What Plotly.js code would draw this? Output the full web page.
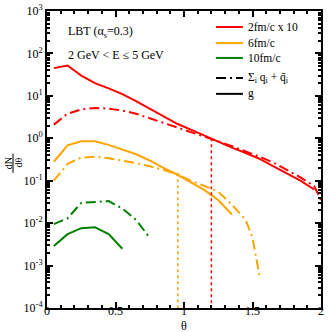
<!DOCTYPE html>
<html>
<head>
<meta charset="utf-8">
<script src="https://cdn.plot.ly/plotly-3.0.1.min.js"></script>
<style>
  body { margin: 0; background: #fff; }
  #plot { width: 332px; height: 332px; }
</style>
</head>
<body>
<div id="plot"></div>
<script>
// theta bins
let theta = [0.05, 0.15, 0.25, 0.35, 0.45, 0.55, 0.65, 0.75, 0.85, 0.95,
             1.05, 1.15, 1.25, 1.35, 1.45, 1.55, 1.65, 1.75, 1.85, 1.95];
let thetaQ = [0.05, 0.15, 0.25, 0.35, 0.45, 0.55, 0.65, 0.75, 0.85, 0.95,
              1.05, 1.15, 1.25, 1.35, 1.45, 1.55, 1.65, 1.75, 1.85, 1.95, 2.0];

// 2 fm/c (x 10)
let red_g = [45, 52, 30, 20, 15, 11, 7.5, 5, 3.3, 2.2,
             1.6, 1.15, 0.85, 0.6, 0.45, 0.33, 0.22, 0.15, 0.1, 0.062];
let red_q = [2.1, 3.8, 4.8, 5.2, 5, 4.5, 3.8, 3, 2.3, 1.8,
             1.4, 1.1, 0.85, 0.65, 0.5, 0.37, 0.27, 0.18, 0.12, 0.075, 0.035];

// 6 fm/c
let theta6g = [0.05, 0.15, 0.25, 0.35, 0.45, 0.55, 0.65, 0.75, 0.85, 0.95, 1.05, 1.15, 1.25, 1.35];
let orange_g = [0.28, 0.68, 0.85, 0.85, 0.7, 0.55, 0.42, 0.3, 0.2, 0.14, 0.09, 0.06, 0.035, 0.016];
let theta6q = [0.05, 0.15, 0.25, 0.35, 0.45, 0.55, 0.65, 0.75, 0.85, 0.95, 1.05, 1.15, 1.25, 1.35, 1.45, 1.5, 1.55];
let orange_q = [0.1, 0.25, 0.35, 0.37, 0.34, 0.3, 0.26, 0.22, 0.18, 0.14, 0.1, 0.075, 0.055, 0.027, 0.012, 0.0045, 0.0006];

// 10 fm/c
let theta10g = [0.05, 0.15, 0.25, 0.35, 0.45, 0.55];
let green_g = [0.0029, 0.0055, 0.0076, 0.008, 0.0055, 0.0025];
let theta10q = [0.05, 0.15, 0.25, 0.35, 0.45, 0.55, 0.65, 0.75];
let green_q = [0.0095, 0.013, 0.03, 0.031, 0.033, 0.022, 0.012, 0.0045];

// vertical dotted markers
let redCut = [1.2, 1.2];
let redCutY = [1, 1e-4];
let orangeCut = [0.955, 0.955];
let orangeCutY = [0.15, 1e-4];

// y tick labels
let yTickVals = [1e-4, 1e-3, 1e-2, 1e-1, 1, 10, 100, 1000];
let yTickText = ["10<sup>-4</sup>", "10<sup>-3</sup>", "10<sup>-2</sup>", "10<sup>-1</sup>",
                 "10<sup>0</sup>", "10<sup>1</sup>", "10<sup>2</sup>", "10<sup>3</sup>"];

// legend
let legendNames = ["2fm/c x 10", "6fm/c", "10fm/c",
                   "\u03a3<sub>i</sub> q<sub>i</sub> + q\u0304<sub>i</sub>", "g"];

let RED = "#ff0000", ORANGE = "#ffa500", GREEN = "#008000";
let dd = "10px,4px,2px,4px";
let legendColors = [RED, ORANGE, GREEN, "black", "black"];
let legendDash = ["solid", "solid", "solid", dd, "solid"];
let legendRowY = [0.946, 0.892, 0.842, 0.774, 0.721];

function line(x, y, color, dash, width) {
    return {
        x: x, y: y, type: "scatter", mode: "lines",
        line: {color: color, width: width || 2, dash: dash || "solid"},
        showlegend: false, hoverinfo: "skip"
    };
}

let pdata = [
    line(theta, red_g, RED),
    line(thetaQ, red_q, RED, dd),
    line(theta6g, orange_g, ORANGE),
    line(theta6q, orange_q, ORANGE, dd),
    line(theta10g, green_g, GREEN),
    line(theta10q, green_q, GREEN, dd),
    line(redCut, redCutY, RED, "dot", 1.5),
    line(orangeCut, orangeCutY, ORANGE, "dot", 1.5)
];

let ff = "Liberation Serif, Times New Roman, serif";
let font = {family: ff, size: 12, color: "black"};

let annotations = [
    {xref: "paper", yref: "paper", x: 0.07, y: 0.93, xanchor: "left", yanchor: "middle",
     text: "LBT (\u03b1<sub>s</sub>=0.3)", showarrow: false, font: font},
    {xref: "paper", yref: "paper", x: 0.07, y: 0.852, xanchor: "left", yanchor: "middle",
     text: "2 GeV < E \u2264 5 GeV", showarrow: false, font: font},
    {xref: "paper", yref: "paper", x: 0.5, y: -0.06, xanchor: "center", yanchor: "middle",
     text: "\u03b8", showarrow: false, font: font},
    {xref: "paper", yref: "paper", x: -0.142, y: 0.488, xanchor: "center", yanchor: "middle",
     text: "dN", textangle: -90, showarrow: false, font: {family: ff, size: 10, color: "black"}},
    {xref: "paper", yref: "paper", x: -0.104, y: 0.488, xanchor: "center", yanchor: "middle",
     text: "d\u03b8", textangle: -90, showarrow: false, font: {family: ff, size: 10, color: "black"}}
];
let shapes = [
    {type: "line", xref: "paper", yref: "paper", x0: -0.124, x1: -0.124, y0: 0.455, y1: 0.52,
     line: {color: "black", width: 1}}
];

// hand-placed legend (tighter rows than plotly's legend)
for (let i = 0; i < legendNames.length; i++) {
    shapes.push({type: "line", xref: "paper", yref: "paper",
                 x0: 0.617, x1: 0.715, y0: legendRowY[i], y1: legendRowY[i],
                 line: {color: legendColors[i], width: 2, dash: legendDash[i]}});
    annotations.push({xref: "paper", yref: "paper", x: 0.726, y: legendRowY[i],
                      xanchor: "left", yanchor: "middle", text: legendNames[i],
                      showarrow: false, font: {family: ff, size: 11.5, color: "black"}});
}

var layout = {
    width: 332, height: 332,
    margin: {l: 47, r: 11, t: 11, b: 24},
    paper_bgcolor: "white", plot_bgcolor: "white",
    font: font,
    showlegend: false,
    xaxis: {
        range: [0, 2], dtick: 0.5, tick0: 0,
        ticks: "inside", ticklen: 6, tickwidth: 1.5, tickcolor: "black",
        minor: {dtick: 0.1, ticks: "inside", ticklen: 3, tickcolor: "black"},
        showline: true, linewidth: 2, linecolor: "black", mirror: "allticks",
        showgrid: false, zeroline: false, ticklabelstandoff: -9
    },
    yaxis: {
        type: "log", range: [-4, 3],
        tickmode: "array", tickvals: yTickVals, ticktext: yTickText,
        ticks: "inside", ticklen: 6, tickwidth: 1.5, tickcolor: "black",
        minor: {dtick: "D1", ticks: "inside", ticklen: 3, tickcolor: "black", showgrid: false},
        showline: true, linewidth: 2, linecolor: "black", mirror: "allticks",
        showgrid: false, zeroline: false
    },
    annotations: annotations,
    shapes: shapes
};

Plotly.newPlot("plot", pdata, layout, {displayModeBar: false});
</script>
</body>
</html>
